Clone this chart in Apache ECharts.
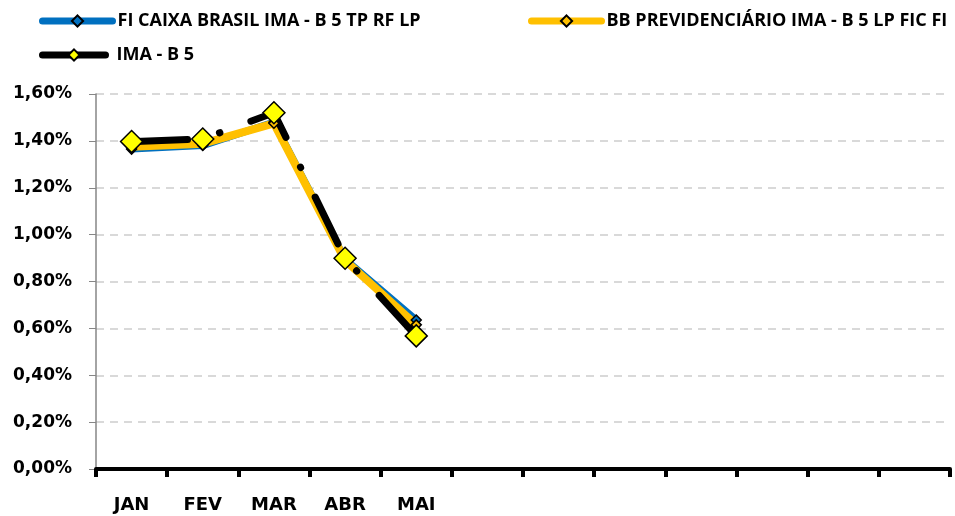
<!DOCTYPE html>
<html>
<head>
<meta charset="utf-8">
<script src="https://cdn.jsdelivr.net/npm/echarts@6/dist/echarts.min.js"></script>
<style>
html,body{margin:0;padding:0;background:#fff;}
#chart{width:955px;height:516px;}
</style>
</head>
<body>
<div id="chart"></div>
<script>
const months = ['JAN','FEV','MAR','ABR','MAI','','','','','','',''];
const seriesNames = ['FI CAIXA BRASIL IMA - B 5 TP RF LP','BB PREVIDENCIÁRIO IMA - B 5 LP FIC FI','IMA - B 5'];
const fiCaixa = [1.365, 1.38, 1.48, 0.895, 0.636];
const bbPrev = [1.375, 1.388, 1.475, 0.89, 0.615];
const imaB5 = [1.397, 1.408, 1.52, 0.899, 0.568];
const yTicks = {min: 0, max: 1.6, interval: 0.2};

const chart = echarts.init(document.getElementById('chart'), null, {renderer: 'canvas'});
const legendText = {color: '#000', fontWeight: 'bold', fontFamily: 'Open Sans', fontSize: 18};
const option = {
  backgroundColor: '#fff',
  animation: false,
  legend: [
    {data: [seriesNames[0]], left: 39, top: 12, padding: 0, itemWidth: 70, itemHeight: 14, textStyle: legendText,
     lineStyle: {cap: 'round', width: 7}},
    {data: [seriesNames[1]], left: 528, top: 12, padding: 0, itemWidth: 70, itemHeight: 14, textStyle: legendText,
     lineStyle: {cap: 'round', width: 7}},
    {data: [seriesNames[2]], left: 39, top: 46, padding: 0, itemWidth: 63, itemHeight: 14,
     textStyle: Object.assign({}, legendText, {padding: [0, 0, 0, 6]}),
     lineStyle: {type: 'solid', cap: 'round', width: 7}}
  ],
  grid: {left: 96, right: 5, top: 94, bottom: 47, containLabel: false},
  xAxis: {
    type: 'category',
    data: months,
    boundaryGap: true,
    axisLine: {show: true, lineStyle: {color: '#000', width: 4}},
    axisTick: {show: true, interval: 0, length: 8, lineStyle: {color: '#000', width: 4}},
    axisLabel: {interval: 0, margin: 27, color: '#000', fontWeight: 'bold', fontFamily: 'DejaVu Sans', fontSize: 18},
    splitLine: {show: false}
  },
  yAxis: {
    type: 'value',
    min: yTicks.min, max: yTicks.max, interval: yTicks.interval,
    axisLine: {show: true, lineStyle: {color: '#868686', width: 1.5}},
    axisTick: {show: true, length: 7, lineStyle: {color: '#868686', width: 1}},
    axisLabel: {margin: 24, color: '#000', fontWeight: 'bold', fontFamily: 'DejaVu Sans', fontSize: 17,
      formatter: v => v.toFixed(2).replace('.', ',') + '%'},
    splitLine: {show: true, lineStyle: {color: '#D9D9D9', width: 2, type: [8, 6]}}
  },
  series: [
    {
      name: seriesNames[0], type: 'line', data: fiCaixa,
      symbol: 'diamond', symbolSize: 10,
      lineStyle: {color: '#0070C0', width: 7, cap: 'round', join: 'round'},
      itemStyle: {color: '#0070C0', borderColor: '#000', borderWidth: 1.5}
    },
    {
      name: seriesNames[1], type: 'line', data: bbPrev,
      symbol: 'diamond', symbolSize: 10,
      lineStyle: {color: '#FFC000', width: 8, cap: 'round', join: 'round'},
      itemStyle: {color: '#FFC000', borderColor: '#000', borderWidth: 1.5}
    },
    {
      name: seriesNames[2], type: 'line', data: imaB5,
      symbol: 'diamond', symbolSize: 22,
      lineStyle: {color: '#000', width: 7, cap: 'round', join: 'round', type: [52, 33, 0.5, 33], dashOffset: -4},
      itemStyle: {color: '#FFFF00', borderColor: '#000', borderWidth: 1.5}
    }
  ]
};
chart.setOption(option);
</script>
</body>
</html>
